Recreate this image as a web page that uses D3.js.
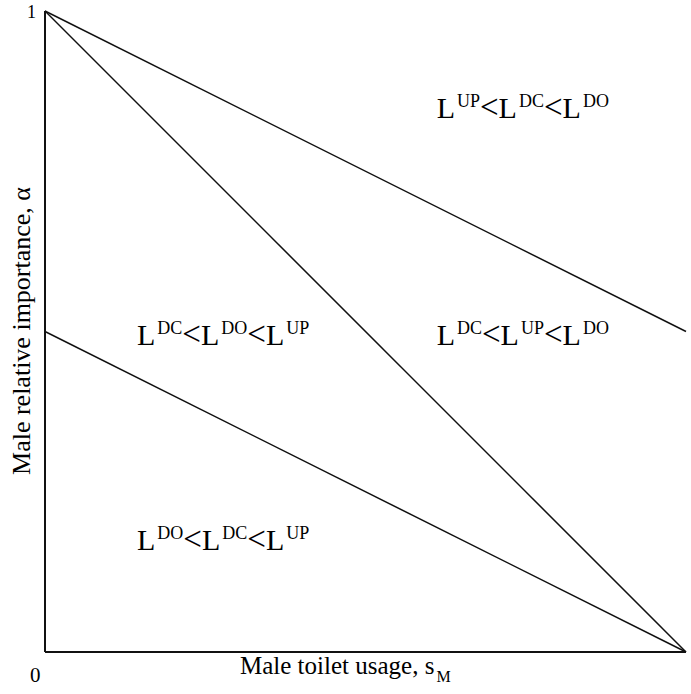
<!DOCTYPE html>
<html>
<head>
<meta charset="utf-8">
<script src="https://cdn.jsdelivr.net/npm/d3@7"></script>
<style>
  html, body { margin: 0; padding: 0; background: #fff; }
  svg { display: block; font-family: "Liberation Serif", "Times New Roman", serif; }
</style>
</head>
<body>
<svg id="chart" width="691" height="694"></svg>
<script>
// ---- data ----
// boundary lines in (s_M, alpha) coordinates: [start, end]
const boundaryStartS = [0, 0, 0];
const boundaryStartA = [1, 1, 0.5];
const boundaryEndS   = [1, 1, 1];
const boundaryEndA   = [0.5, 0, 0];
// region labels: superscripts of the three L's
const regionSups = [
  ["UP", "DC", "DO"],
  ["DC", "DO", "UP"],
  ["DC", "UP", "DO"],
  ["DO", "DC", "UP"]
];
// region label anchor points in data coordinates
const regionS = [0.611, 0.1435, 0.611, 0.1435];
const regionA = [0.833, 0.479, 0.479, 0.159];
const tickLabelsX = ["0"];
const tickLabelsY = ["1"];
const xDomain = [0, 1];
const yDomain = [0, 1];

// ---- layout ----
const svg = d3.select("#chart");
const x = d3.scaleLinear().domain(xDomain).range([45, 686]);
const y = d3.scaleLinear().domain(yDomain).range([652, 11]);

// boundary lines
const lines = boundaryStartS.map((s, i) => ({
  x1: s, y1: boundaryStartA[i], x2: boundaryEndS[i], y2: boundaryEndA[i]
}));
svg.selectAll("line.boundary").data(lines).enter().append("line")
  .attr("class", "boundary")
  .attr("x1", d => x(d.x1)).attr("y1", d => y(d.y1))
  .attr("x2", d => x(d.x2)).attr("y2", d => y(d.y2))
  .attr("stroke", "#111").attr("stroke-width", 1.5);

// axes (lines only)
svg.append("line")
  .attr("x1", x(0)).attr("y1", y(0)).attr("x2", x(1)).attr("y2", y(0))
  .attr("stroke", "#111").attr("stroke-width", 2);
svg.append("line")
  .attr("x1", x(0)).attr("y1", y(0)).attr("x2", x(0)).attr("y2", y(1))
  .attr("stroke", "#111").attr("stroke-width", 2);

// tick labels
svg.append("text").attr("x", 30).attr("y", 682)
  .attr("font-size", 21).attr("fill", "#000").text(tickLabelsX[0]);
svg.append("text").attr("x", 27).attr("y", 18)
  .attr("font-size", 18).attr("fill", "#000").text(tickLabelsY[0]);

// x-axis label
const xl = svg.append("text").attr("x", 240).attr("y", 674)
  .attr("font-size", 25).attr("fill", "#000");
xl.append("tspan").text("Male toilet usage, s");
xl.append("tspan").attr("dy", 8).attr("dx", 2).attr("font-size", 16).text("M");

// y-axis label
svg.append("text")
  .attr("transform", `translate(30, 331) rotate(-90)`)
  .attr("text-anchor", "middle")
  .attr("font-size", 26).attr("fill", "#000")
  .text("Male relative importance, α");

// region labels
regionSups.forEach((sups, i) => {
  const t = svg.append("text")
    .attr("x", x(regionS[i])).attr("y", y(regionA[i]))
    .attr("font-size", 30).attr("fill", "#000");
  sups.forEach((sp, j) => {
    if (j > 0) {
      t.append("tspan").attr("dy", 11).attr("font-size", 33).text("<");
      t.append("tspan").text("L");
    } else {
      t.append("tspan").text("L");
    }
    t.append("tspan").attr("dy", -11).attr("dx", 2).attr("font-size", 18).text(sp);
  });
});
</script>
</body>
</html>
